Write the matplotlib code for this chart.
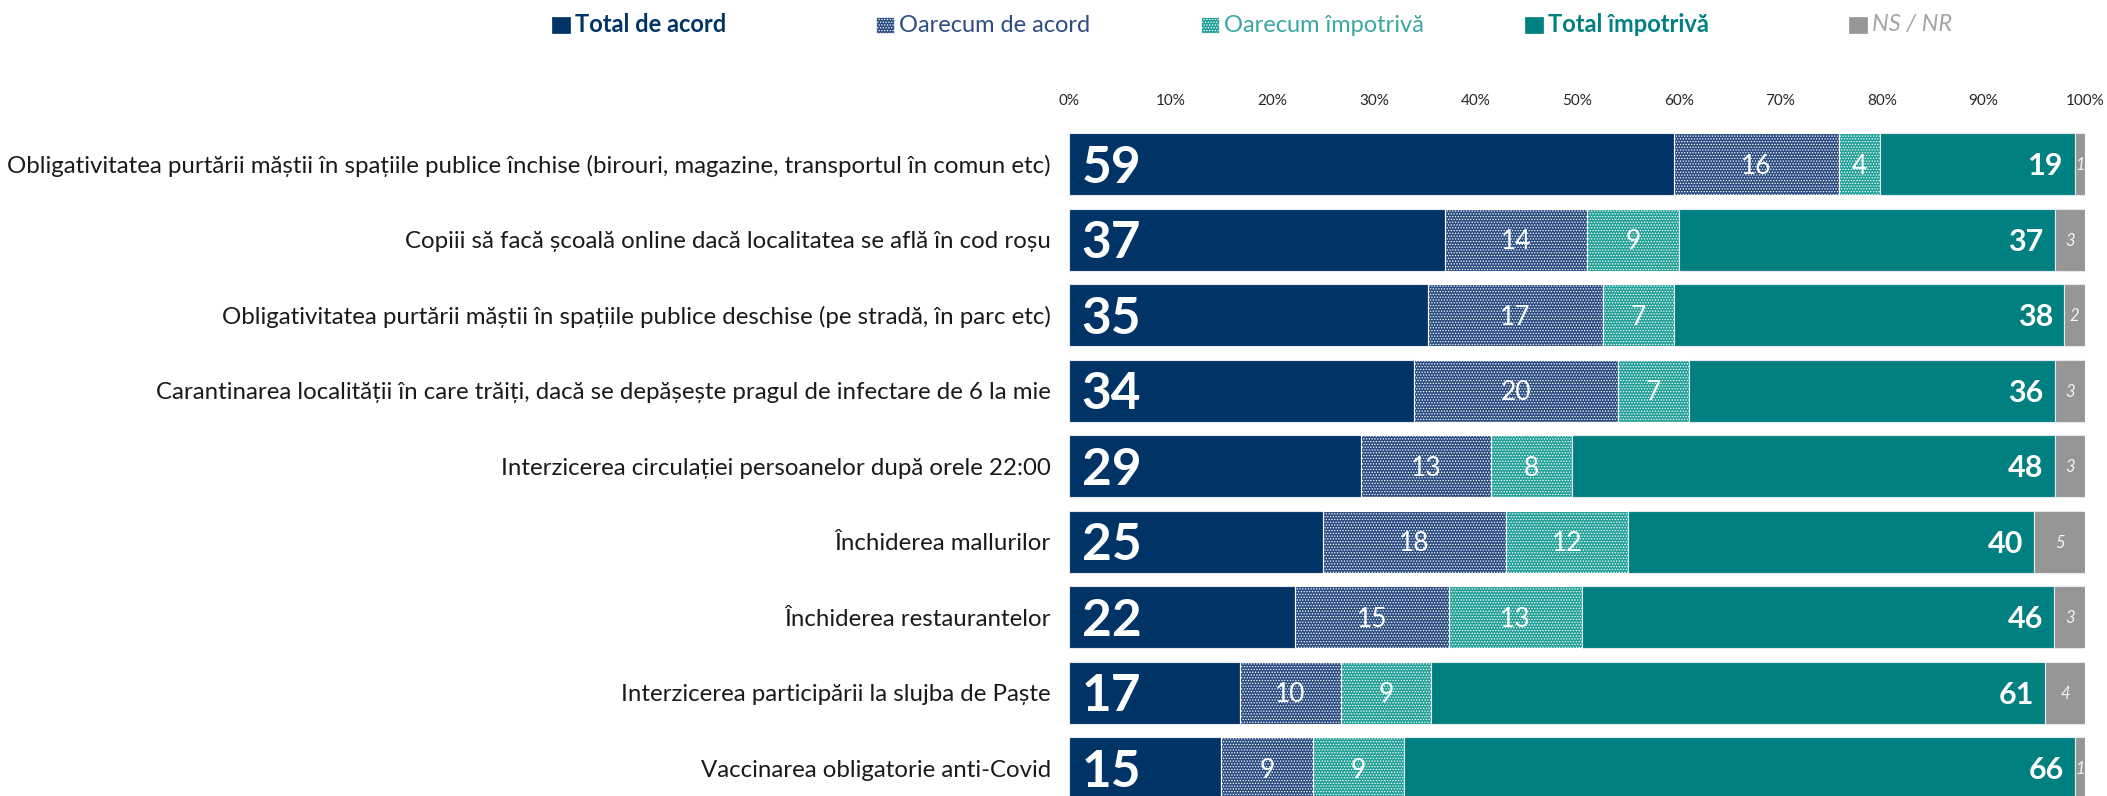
import matplotlib
matplotlib.use('Agg')
import matplotlib.pyplot as plt
from matplotlib.patches import Rectangle
import numpy as np

categories = [
    "Obligativitatea purtării măștii în spațiile publice închise (birouri, magazine, transportul în comun etc)",
    "Copiii să facă școală online dacă localitatea se află în cod roșu",
    "Obligativitatea purtării măștii în spațiile publice deschise (pe stradă, în parc etc)",
    "Carantinarea localității în care trăiți, dacă se depășește pragul de infectare de 6 la mie",
    "Interzicerea circulației persoanelor după orele 22:00",
    "Închiderea mallurilor",
    "Închiderea restaurantelor",
    "Interzicerea participării la slujba de Paște",
    "Vaccinarea obligatorie anti-Covid",
]
total_acord = [59, 37, 35, 34, 29, 25, 22, 17, 15]
oarecum_acord = [16, 14, 17, 20, 13, 18, 15, 10, 9]
oarecum_impotriva = [4, 9, 7, 7, 8, 12, 13, 9, 9]
total_impotriva = [19, 37, 38, 36, 48, 40, 46, 61, 66]
ns_nr = [1, 3, 2, 3, 3, 5, 3, 4, 1]
series_names = ["Total de acord", "Oarecum de acord", "Oarecum împotrivă",
                "Total împotrivă", "NS / NR"]
tick_values = list(range(0, 101, 10))
tick_labels = [f"{v}%" for v in tick_values]

plt.rcParams['font.family'] = ['Lato', 'DejaVu Sans']
plt.rcParams['hatch.linewidth'] = 0.6

bar_colors = ['#003366', '#2A4C82', '#21A098', '#008080', '#969696']
hatches = [None, '......', '......', None, None]
edge_colors = ['#E6EAF0', 'white', 'white', '#E6EAF0', '#E6EAF0']
legend_text_colors = ['#003366', '#2C4C84', '#38A8A0', '#008080', '#A6A6A6']
legend_weights = ['bold', 'normal', 'normal', 'bold', 'normal']
legend_styles = ['normal', 'normal', 'normal', 'normal', 'italic']

W, H = 2107, 796
fig = plt.figure(figsize=(W / 100, H / 100), dpi=100)
ax = fig.add_axes([1069 / W, 0, 1016 / W, (796 - 118) / H])

data = np.array([total_acord, oarecum_acord, oarecum_impotriva, total_impotriva, ns_nr], dtype=float)
pct = data / data.sum(axis=0) * 100
y = np.arange(len(categories))
left = np.zeros(len(categories))


def label(x, yy, s, fs, dx=0, ha='center', **kw):
    ax.annotate(s, xy=(x, yy), xytext=(dx, -0.36 * fs), textcoords='offset points',
                ha=ha, va='baseline', fontsize=fs, **kw)


for k in range(5):
    ax.barh(y, pct[k], left=left, height=0.82, color=bar_colors[k],
            hatch=hatches[k], edgecolor=edge_colors[k], linewidth=0.8)
    for i in range(len(categories)):
        val = str(int(data[k, i]))
        if k == 0:
            label(left[i], y[i], val, 37, dx=9, ha='left', fontweight='bold', color='white')
        elif k in (1, 2):
            label(left[i] + pct[k, i] / 2, y[i], val, 19, color='white')
        elif k == 3:
            label(left[i] + pct[k, i], y[i], val, 22, dx=-8, ha='right',
                  fontweight='bold', color='white')
        else:
            label(left[i] + pct[k, i] / 2, y[i], val, 12, style='italic', color='#F4F4F4')
    left += pct[k]

ax.set_xlim(0, 100)
ax.set_ylim(8.37, -0.61)
ax.xaxis.tick_top()
ax.set_xticks(tick_values, tick_labels)
ax.tick_params(axis='x', length=0, pad=7, labelsize=11, colors='#262626')
ax.set_yticks(y, categories)
ax.tick_params(axis='y', length=0, pad=13, labelsize=17.3, colors='#1A1A1A')
for s in ax.spines.values():
    s.set_visible(False)

# legend
for k in range(5):
    x0 = 552 + 324.3 * k
    fig.add_artist(Rectangle((x0 / W, 1 - 33 / H), 18 / W, 16 / H, transform=fig.transFigure,
                             facecolor=bar_colors[k], hatch=hatches[k],
                             edgecolor='white' if hatches[k] else bar_colors[k], linewidth=0.5))
    fig.text((x0 + 23) / W, 1 - 25 / H, series_names[k], ha='left', va='center',
             fontsize=17, color=legend_text_colors[k], fontweight=legend_weights[k],
             style=legend_styles[k])

fig.savefig('out.png', dpi=100)
